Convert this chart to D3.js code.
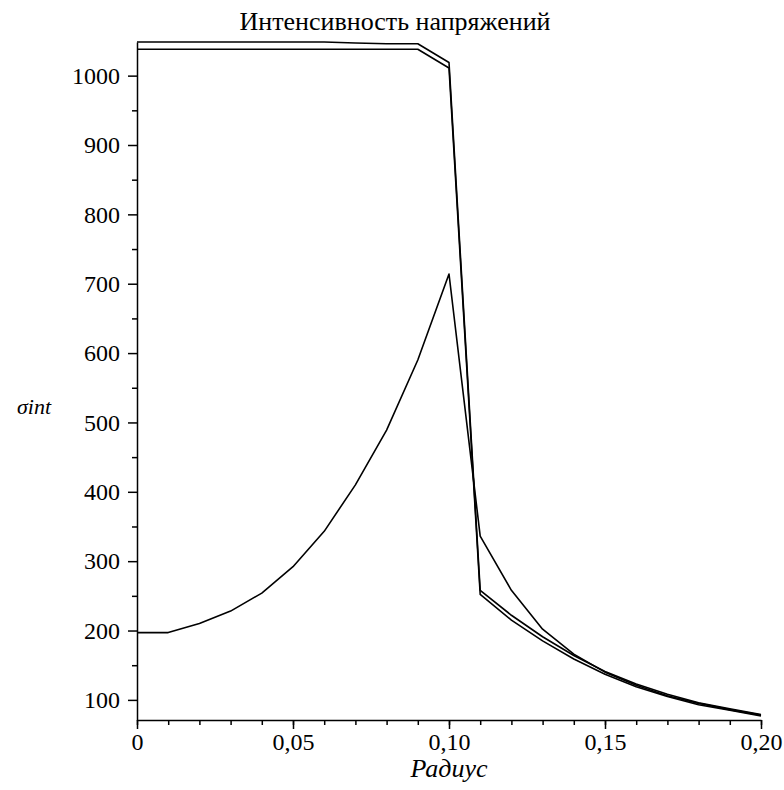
<!DOCTYPE html>
<html>
<head>
<meta charset="utf-8">
<script src="https://cdn.jsdelivr.net/npm/d3@7"></script>
<style>
  body { margin: 0; background: #fff; }
  #vis { width: 784px; height: 790px; }
  .axis path, .axis line { stroke: #000; stroke-width: 1.5; }
</style>
</head>
<body>
<div id="vis"></div>
<script>
// radius points (m)
var radius = [0, 0.01, 0.02, 0.03, 0.04, 0.05, 0.06, 0.07, 0.08, 0.09, 0.10,
              0.11, 0.12, 0.13, 0.14, 0.15, 0.16, 0.17, 0.18, 0.19, 0.20];

// stress intensity, three cases
var sigmaA = [1048.5, 1048.5, 1048.5, 1048.5, 1048.5, 1048.5, 1048.5, 1047, 1046, 1046, 1019,
              258, 222, 191, 164, 141, 123, 108, 96, 87, 79];
var sigmaB = [1038, 1038, 1038, 1038, 1038, 1038, 1038, 1038, 1038, 1038, 1011,
              252, 215, 185, 159, 137, 119, 105, 93, 85, 77];
var sigmaC = [197, 197, 210, 228, 254, 292, 343, 410, 489, 590, 714,
              336, 258, 202, 166, 140, 121, 106, 95, 86, 78];

var xTicks = [0, 0.05, 0.10, 0.15, 0.20];
var xTickLabels = ["0", "0,05", "0,10", "0,15", "0,20"];
var yTicks = [100, 200, 300, 400, 500, 600, 700, 800, 900, 1000];

var title = "Интенсивность напряжений";
var xTitle = "Радиус";
var yTitle = "σint";

var font = "Liberation Serif";

var width = 784, height = 790;
var margin = { top: 42, left: 137, right: 23, bottom: 70 };

var svg = d3.select("#vis")
    .append("svg")
    .attr("width", width)
    .attr("height", height);

var w = width - margin.left - margin.right;
var h = height - margin.top - margin.bottom;

var g = svg.append("g")
    .attr("transform", "translate(" + margin.left + "," + margin.top + ")");

var xscale = d3.scaleLinear().domain([0, 0.20]).range([0, w]);
var yscale = d3.scaleLinear().domain([71, 1048.5]).range([h, 0]);

// minor ticks
g.append("g")
    .attr("class", "axis")
    .attr("transform", "translate(0," + h + ")")
    .call(d3.axisBottom(xscale).tickValues(d3.range(0, 21).map(function(i) { return i / 100; }))
        .tickSize(5).tickFormat(""))
    .call(function(s) { s.select(".domain").remove(); });

g.append("g")
    .attr("class", "axis")
    .call(d3.axisLeft(yscale).tickValues(d3.range(150, 1001, 100)).tickSize(5).tickFormat(""))
    .call(function(s) { s.select(".domain").remove(); });

// major axes
g.append("g")
    .attr("class", "axis x")
    .attr("transform", "translate(0," + h + ")")
    .call(d3.axisBottom(xscale).tickValues(xTicks).tickSizeInner(9).tickSizeOuter(0)
        .tickPadding(4)
        .tickFormat(function(d, i) { return xTickLabels[i]; }));

g.append("g")
    .attr("class", "axis y")
    .call(d3.axisLeft(yscale).tickValues(yTicks).tickSizeInner(9).tickSizeOuter(0)
        .tickPadding(8)
        .tickFormat(d3.format("d")));

svg.selectAll(".axis").attr("font-family", null);
svg.selectAll(".axis text")
    .attr("font-family", font)
    .attr("font-size", 24);

var line = d3.line()
    .x(function(d, i) { return xscale(radius[i]); })
    .y(function(d) { return yscale(d); });

[sigmaA, sigmaB, sigmaC].forEach(function(s) {
    g.append("path")
        .datum(s)
        .attr("fill", "none")
        .attr("stroke", "#000")
        .attr("stroke-width", 1.6)
        .attr("stroke-linejoin", "round")
        .attr("d", line);
});

svg.append("text")
    .attr("x", 395)
    .attr("y", 30)
    .attr("text-anchor", "middle")
    .attr("font-family", font)
    .attr("font-size", 26)
    .text(title);

svg.append("text")
    .attr("x", margin.left + w / 2)
    .attr("y", 777)
    .attr("text-anchor", "middle")
    .attr("font-family", font)
    .attr("font-style", "italic")
    .attr("font-size", 26)
    .text(xTitle);

svg.append("text")
    .attr("x", 34)
    .attr("y", 414)
    .attr("text-anchor", "middle")
    .attr("font-family", font)
    .attr("font-style", "italic")
    .attr("font-size", 22)
    .text(yTitle);
</script>
</body>
</html>
